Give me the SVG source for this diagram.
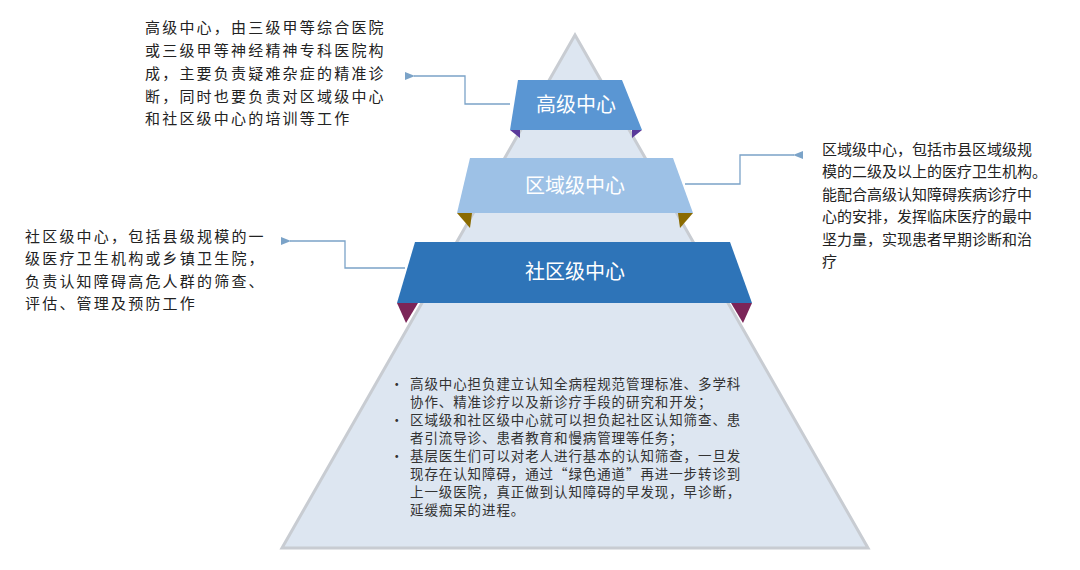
<svg xmlns="http://www.w3.org/2000/svg" width="1080" height="570" viewBox="0 0 1080 570">
<defs>
<style>
text{font-family:"Noto Sans CJK SC","Liberation Sans",sans-serif;}
.d{font-size:15px;fill:#222;}
.w{letter-spacing:2.2px;}
.b{font-size:13.5px;fill:#333;letter-spacing:0.9px;}
.l{font-size:20px;fill:#fff;text-anchor:middle;}
.c{fill:none;stroke:#7ba3c8;stroke-width:1.3;}
</style>
<marker id="a" markerWidth="10" markerHeight="8" refX="1" refY="4" orient="auto-start-reverse" markerUnits="userSpaceOnUse"><path d="M10,0 L0,4 L10,8 Z" fill="#7ba3c8"/></marker>
</defs>
<rect width="1080" height="570" fill="#fff"/>
<g id="pyramid"><polygon points="575,35 868,548 282,548" fill="#dde6f1" stroke="#c8ccd2" stroke-width="3"/></g>
<g id="top">
<polygon points="510,130 520,138 520,130" fill="#5a3a9a"/><polygon points="642,130 632,138 632,130" fill="#5a3a9a"/>
<polygon points="518,80 622,80 642,130 510,130" fill="#5a96d3"/>
<text class="l" x="576" y="112">高级中心</text></g>
<g id="mid">
<polygon points="457,213 470,228 472,213" fill="#8a6a00"/><polygon points="693,213 680,228 678,213" fill="#8a6a00"/>
<polygon points="470,158 673,158 693,213 457,213" fill="#9dc1e6"/>
<text class="l" x="575" y="193">区域级中心</text></g>
<g id="bot">
<polygon points="397,303 406,323 418,303" fill="#7b2558"/><polygon points="752,303 743,323 731,303" fill="#7b2558"/>
<polygon points="415,242 730,242 752,303 397,303" fill="#2e74b8"/>
<text class="l" x="575" y="279">社区级中心</text></g>
<g id="connectors">
<polyline class="c" points="510,104 465,104 465,76 414,76" marker-end="url(#a)"/>
<polyline class="c" points="685,184 740,184 740,155 794,155" marker-end="url(#a)"/>
<polyline class="c" points="405,268 345,268 345,241 290,241" marker-end="url(#a)"/>
</g>
<g id="t1" class="d w">
<text x="145" y="33">高级中心，由三级甲等综合医院</text>
<text x="145" y="56">或三级甲等神经精神专科医院构</text>
<text x="145" y="79">成，主要负责疑难杂症的精准诊</text>
<text x="145" y="102">断，同时也要负责对区域级中心</text>
<text x="145" y="124">和社区级中心的培训等工作</text>
</g>
<g id="t2" class="d">
<text x="822" y="155">区域级中心，包括市县区域级规</text>
<text x="822" y="177">模的二级及以上的医疗卫生机构。</text>
<text x="822" y="200">能配合高级认知障碍疾病诊疗中</text>
<text x="822" y="222">心的安排，发挥临床医疗的最中</text>
<text x="822" y="245">坚力量，实现患者早期诊断和治</text>
<text x="822" y="267">疗</text>
</g>
<g id="t3" class="d w">
<text x="25" y="242">社区级中心，包括县级规模的一</text>
<text x="25" y="264">级医疗卫生机构或乡镇卫生院，</text>
<text x="25" y="287">负责认知障碍高危人群的筛查、</text>
<text x="25" y="309">评估、管理及预防工作</text>
</g>
<g id="t4" class="b">
<text x="390" y="389">•</text><text x="390" y="425">•</text><text x="390" y="461">•</text>
<text x="410" y="389">高级中心担负建立认知全病程规范管理标准、多学科</text>
<text x="410" y="407">协作、精准诊疗以及新诊疗手段的研究和开发；</text>
<text x="410" y="425">区域级和社区级中心就可以担负起社区认知筛查、患</text>
<text x="410" y="443">者引流导诊、患者教育和慢病管理等任务；</text>
<text x="410" y="461">基层医生们可以对老人进行基本的认知筛查，一旦发</text>
<text x="410" y="479">现存在认知障碍，通过“绿色通道”再进一步转诊到</text>
<text x="410" y="497">上一级医院，真正做到认知障碍的早发现，早诊断，</text>
<text x="410" y="515">延缓痴呆的进程。</text>
</g>
</svg>
